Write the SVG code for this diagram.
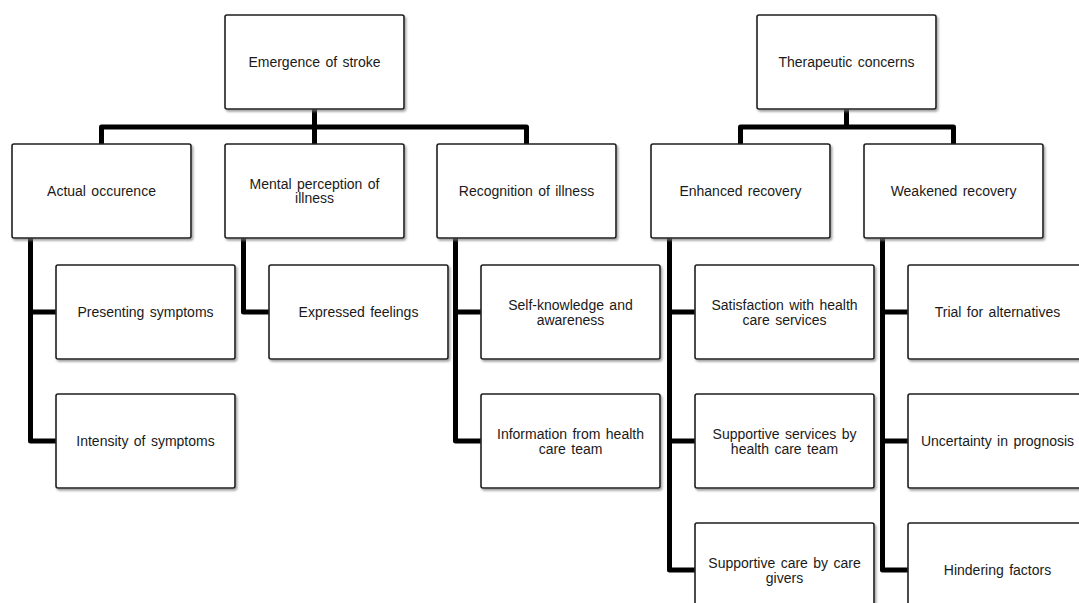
<svg xmlns="http://www.w3.org/2000/svg" width="1079" height="603" viewBox="0 0 1079 603">
<defs>
<filter id="sh" x="-10%" y="-10%" width="125%" height="130%">
<feDropShadow dx="1.5" dy="2" stdDeviation="1.2" flood-color="#777" flood-opacity="0.7"/>
</filter>
</defs>
<style>
.box{fill:#fff;stroke:#1e1e1e;stroke-width:1.6;filter:url(#sh)}
.t{font-family:"Liberation Sans",Arial,sans-serif;font-size:14px;fill:#1a1a1a;text-anchor:middle;word-spacing:1.5px}
.c{fill:none;stroke:#000;stroke-width:5;stroke-linejoin:round;stroke-linecap:butt}
</style>
<rect width="1079" height="603" fill="#fff"/>
<g id="connectors">
<path class="c" d="M314.5,109 V144 M101.5,144 V127 H526.5 V144"/>
<path class="c" d="M846.5,109 V127 M740.5,144 V127 H953.5 V144"/>
<path class="c" d="M30.5,238 V441 H56 M30.5,312 H56"/>
<path class="c" d="M243.5,238 V312 H269"/>
<path class="c" d="M455.5,238 V441 H481 M455.5,312 H481"/>
<path class="c" d="M669.5,238 V570 H695 M669.5,312 H695 M669.5,441 H695"/>
<path class="c" d="M882.5,238 V570 H908 M882.5,312 H908 M882.5,441 H908"/>
</g>
<g id="n-emergence"><rect class="box" x="225" y="15" width="179" height="94" rx="2"/><text class="t" x="314.5" y="67">Emergence of stroke</text></g>
<g id="n-therapeutic"><rect class="box" x="757" y="15" width="179" height="94" rx="2"/><text class="t" x="846.5" y="67">Therapeutic concerns</text></g>
<g id="n-actual"><rect class="box" x="12" y="144" width="179" height="94" rx="2"/><text class="t" x="101.5" y="196">Actual occurence</text></g>
<g id="n-mental"><rect class="box" x="225" y="144" width="179" height="94" rx="2"/><text class="t" x="314.5" y="189">Mental perception of</text><text class="t" x="314.5" y="203">illness</text></g>
<g id="n-recognition"><rect class="box" x="437" y="144" width="179" height="94" rx="2"/><text class="t" x="526.5" y="196">Recognition of illness</text></g>
<g id="n-enhanced"><rect class="box" x="651" y="144" width="179" height="94" rx="2"/><text class="t" x="740.5" y="196">Enhanced recovery</text></g>
<g id="n-weakened"><rect class="box" x="864" y="144" width="179" height="94" rx="2"/><text class="t" x="953.5" y="196">Weakened recovery</text></g>
<g id="n-presenting"><rect class="box" x="56" y="265" width="179" height="94" rx="2"/><text class="t" x="145.5" y="317">Presenting symptoms</text></g>
<g id="n-intensity"><rect class="box" x="56" y="394" width="179" height="94" rx="2"/><text class="t" x="145.5" y="446">Intensity of symptoms</text></g>
<g id="n-expressed"><rect class="box" x="269" y="265" width="179" height="94" rx="2"/><text class="t" x="358.5" y="317">Expressed feelings</text></g>
<g id="n-selfknowledge"><rect class="box" x="481" y="265" width="179" height="94" rx="2"/><text class="t" x="570.5" y="310">Self-knowledge and</text><text class="t" x="570.5" y="325">awareness</text></g>
<g id="n-information"><rect class="box" x="481" y="394" width="179" height="94" rx="2"/><text class="t" x="570.5" y="439">Information from health</text><text class="t" x="570.5" y="454">care team</text></g>
<g id="n-satisfaction"><rect class="box" x="695" y="265" width="179" height="94" rx="2"/><text class="t" x="784.5" y="310">Satisfaction with health</text><text class="t" x="784.5" y="325">care services</text></g>
<g id="n-supportive-services"><rect class="box" x="695" y="394" width="179" height="94" rx="2"/><text class="t" x="784.5" y="439">Supportive services by</text><text class="t" x="784.5" y="454">health care team</text></g>
<g id="n-supportive-care"><rect class="box" x="695" y="523" width="179" height="94" rx="2"/><text class="t" x="784.5" y="568">Supportive care by care</text><text class="t" x="784.5" y="583">givers</text></g>
<g id="n-trial"><rect class="box" x="908" y="265" width="179" height="94" rx="2"/><text class="t" x="997.5" y="317">Trial for alternatives</text></g>
<g id="n-uncertainty"><rect class="box" x="908" y="394" width="179" height="94" rx="2"/><text class="t" x="997.5" y="446">Uncertainty in prognosis</text></g>
<g id="n-hindering"><rect class="box" x="908" y="523" width="179" height="94" rx="2"/><text class="t" x="997.5" y="575">Hindering factors</text></g>
</svg>
